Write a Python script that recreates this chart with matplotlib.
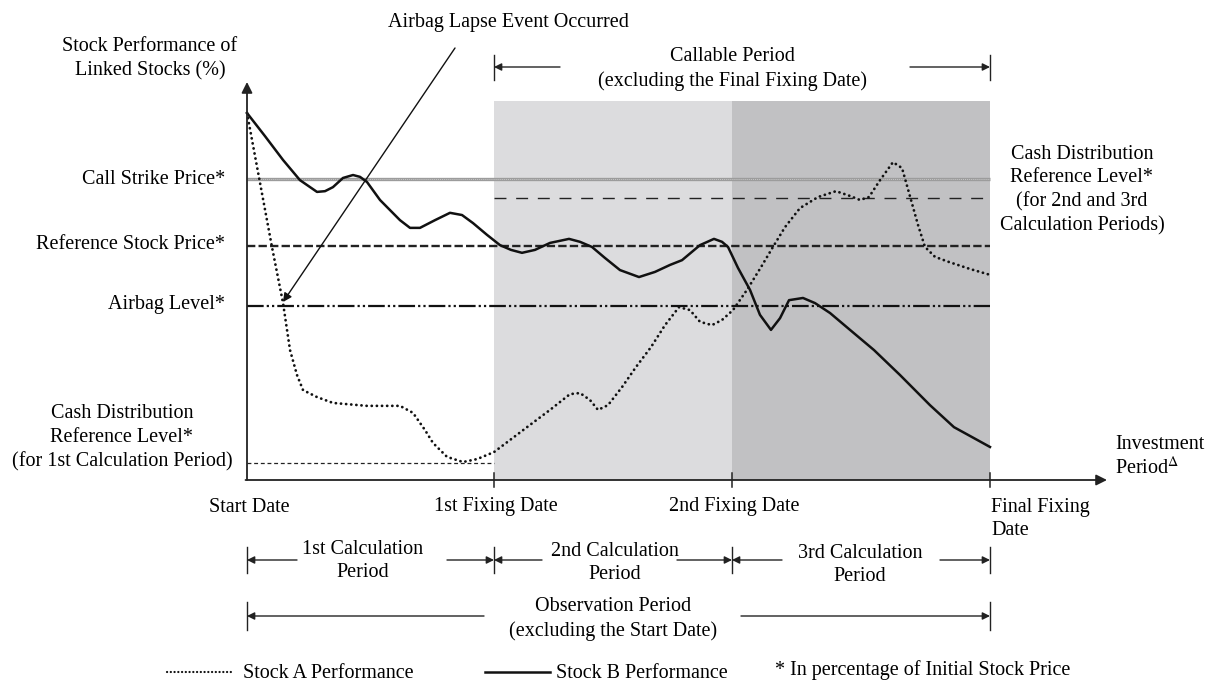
import matplotlib
matplotlib.use("Agg")
import matplotlib.pyplot as plt

plt.rcParams['font.family'] = ['Liberation Serif', 'DejaVu Serif']
plt.rcParams['mathtext.fontset'] = 'stix'
plt.rcParams['lines.scale_dashes'] = False
FS = 14.5

# ---------------- data (investment period in %, performance in % of initial) -------------
date_labels = ['Start Date', '1st Fixing Date', '2nd Fixing Date', 'Final Fixing\nDate']
date_x = [0.0, 33.2, 65.3, 100.0]

call_strike = 82.0
cash_dist_level_23 = 76.8
reference_price = 63.8
airbag_level = 47.4
cash_dist_level_1 = 4.6

stock_a_x = [0.0, 3.36, 4.85, 5.79, 6.73, 7.54, 9.42, 11.57, 16.15, 20.59, 22.34, 23.96,
             25.03, 26.92, 29.07, 30.96, 33.24, 35.40, 37.69, 40.78, 43.47, 44.82, 46.16,
             47.24, 48.59, 50.47, 52.36, 54.37, 56.26, 58.14, 59.62, 60.97, 62.58, 63.93,
             65.41, 67.29, 69.18, 70.79, 72.41, 74.43, 76.85, 79.27, 81.16, 82.50, 83.71,
             85.20, 86.94, 88.16, 89.37, 90.31, 91.25, 92.60, 94.48, 97.31, 100.0]
stock_a_y = [100.0, 63.5, 48.2, 35.4, 28.6, 24.5, 22.6, 21.0, 20.2, 20.2, 18.3, 13.6,
             10.1, 6.3, 4.9, 5.7, 7.6, 10.9, 14.4, 19.1, 23.4, 23.7, 21.8,
             19.1, 20.4, 25.3, 30.8, 36.2, 42.2, 47.1, 46.3, 43.1, 42.2, 43.6,
             46.3, 51.8, 58.0, 63.5, 68.9, 74.1, 77.1, 78.7, 77.4, 76.3, 77.1,
             81.7, 86.6, 85.0, 76.3, 69.5, 63.5, 60.8, 59.4, 57.5, 55.9]

stock_b_x = [0.0, 2.42, 4.85, 7.13, 9.42, 10.50, 11.57, 12.92, 14.27, 15.21, 16.15, 17.90,
             20.59, 21.94, 23.28, 25.30, 27.32, 28.94, 30.42, 32.30, 34.05, 35.53, 37.01,
             38.76, 40.78, 43.34, 44.82, 46.43, 48.18, 50.20, 52.76, 54.91, 56.93, 58.55,
             60.97, 62.85, 63.93, 64.74, 66.08, 67.70, 69.04, 70.52, 71.74, 72.95, 74.83,
             76.45, 78.47, 81.16, 84.39, 87.89, 91.92, 95.15, 97.31, 100.0]
stock_b_y = [100.0, 93.7, 87.2, 81.7, 78.5, 78.7, 79.8, 82.3, 83.1, 82.6, 81.2, 76.3,
             70.8, 68.7, 68.7, 70.8, 72.8, 72.2, 70.0, 66.8, 64.0, 62.7, 61.9,
             62.7, 64.6, 65.7, 64.9, 63.5, 60.5, 57.2, 55.3, 56.7, 58.6, 59.9,
             64.0, 65.7, 64.9, 63.5, 57.8, 51.8, 45.0, 40.9, 44.1, 49.0, 49.6,
             48.2, 45.5, 40.9, 35.4, 28.6, 20.4, 14.4, 12.0, 9.0]

# ---------------- figure -----------------------------------------------------------------
W, H = 1215, 684
fig = plt.figure(figsize=(W / 100, H / 100), dpi=100)

# pixel mapping of the data axes
X0, SX = 247.0, 7.43     # px of x=0, px per unit
Y0, SY = 480.0, 3.67     # px of y=0, px per unit
ax = fig.add_axes([0, 0, 1, 1])
ax.set_xlim(-X0 / SX, (W - X0) / SX)
ax.set_ylim((Y0 - H) / SY, Y0 / SY)
ax.axis('off')

lay = fig.add_axes([0, 0, 1, 1], facecolor='none')
lay.set_xlim(0, W)
lay.set_ylim(H, 0)
lay.axis('off')

shade_top = (Y0 - 101) / SY
ax.fill_between([date_x[1], date_x[2]], 0, shade_top, color='#dcdcde', lw=0, zorder=0)
ax.fill_between([date_x[2], date_x[3]], 0, shade_top, color='#c1c1c3', lw=0, zorder=0)

# level lines
ax.plot([date_x[0], date_x[3]], [call_strike] * 2, color='#9c9c9c', lw=2.4, zorder=2,
        solid_capstyle='butt')
ax.plot([date_x[0], date_x[3]], [call_strike] * 2, color='white', lw=0.6, zorder=2,
        dashes=(0.7, 0.7), alpha=0.5)
ax.plot([date_x[1], date_x[3]], [cash_dist_level_23] * 2, color='#222222', lw=1.0,
        dashes=(8.6, 7.0), zorder=2)
ax.plot([date_x[0], date_x[3]], [reference_price] * 2, color='#222222', lw=1.7,
        dashes=(6.0, 2.3), zorder=2, dash_capstyle='butt')
ax.plot([date_x[0], date_x[3]], [airbag_level] * 2, color='#111111', lw=1.6,
        dashes=(12.0, 2.2, 1.6, 2.2, 1.6, 2.2), zorder=2)
ax.plot([date_x[0], date_x[1]], [cash_dist_level_1] * 2, color='#222222', lw=0.9,
        dashes=(2.8, 2.0), zorder=2)

# stocks
ax.plot(stock_a_x, stock_a_y, color='#111111', lw=2.0, dashes=(0.1, 3.6),
        dash_capstyle='round', zorder=3)
ax.plot(stock_b_x, stock_b_y, color='#111111', lw=1.8, zorder=3, solid_joinstyle='round')

# axes with arrows
aprops = dict(arrowstyle='-|>', lw=1.3, color='#222222', mutation_scale=16,
              shrinkA=0, shrinkB=0)
ax.annotate('', xy=(0, (Y0 - 82) / SY), xytext=(0, 0), arrowprops=aprops, zorder=4)
ax.annotate('', xy=((1107 - X0) / SX, 0), xytext=(-0.2, 0), arrowprops=aprops, zorder=4)
for xv in date_x[1:]:
    ax.plot([xv, xv], [-7 / SY, 7 / SY], color='#222222', lw=1.1, zorder=4)

# tick labels
for lab, xv in zip(date_labels, date_x):
    px = X0 + xv * SX
    if '\n' in lab:
        lay.text(px + 1, 519, lab, ha='left', va='center', fontsize=FS, linespacing=1.32)
    else:
        lay.text(px + 2, 507, lab, ha='center', va='center', fontsize=FS)

# level labels
ax.text(-22 / SX, call_strike, 'Call Strike Price*', ha='right', va='center', fontsize=FS)
ax.text(-22 / SX, reference_price + 0.5, 'Reference Stock Price*', ha='right', va='center',
        fontsize=FS)
ax.text(-22 / SX, airbag_level + 0.3, 'Airbag Level*', ha='right', va='center', fontsize=FS)
lay.text(122, 438, 'Cash Distribution\nReference Level*\n(for 1st Calculation Period)',
         ha='center', va='center', fontsize=FS, linespacing=1.34)
lay.text(1082, 190, 'Cash Distribution\nReference Level*\n(for 2nd and 3rd\nCalculation Periods)',
         ha='center', va='center', fontsize=FS, linespacing=1.32)
lay.text(150, 59, 'Stock Performance of\nLinked Stocks (%)', ha='center', va='center',
         fontsize=FS, linespacing=1.34)
lay.text(1115, 457, 'Investment\nPeriod$^{\\Delta}$', ha='left', va='center',
         fontsize=FS, linespacing=1.22)

# airbag lapse annotation
lay.text(508, 23, 'Airbag Lapse Event Occurred', ha='center', va='center', fontsize=FS)
lay.annotate('', xy=(283, 302), xytext=(455, 48),
             arrowprops=dict(arrowstyle='-|>', lw=1.0, color='#111111', mutation_scale=13,
                             shrinkA=0, shrinkB=0))


def bar(x, y0, y1):
    lay.plot([x, x], [y0, y1], color='#222222', lw=1.0)


def arr(x_from, x_to, y):
    lay.annotate('', xy=(x_to, y), xytext=(x_from, y),
                 arrowprops=dict(arrowstyle='-|>', lw=1.0, color='#222222',
                                 mutation_scale=11, shrinkA=0, shrinkB=0))


# callable period
lay.text(732, 69, 'Callable Period\n(excluding the Final Fixing Date)', ha='center',
         va='center', fontsize=FS, linespacing=1.34)
bar(494, 55, 80)
bar(990, 55, 80)
arr(560, 494, 67)
arr(910, 990, 67)

# calculation periods
for xb in [247, 494, 732, 990]:
    bar(xb, 547, 573)
arr(297, 247, 560); arr(447, 494, 560)
arr(542, 494, 560); arr(677, 732, 560)
arr(782, 732, 560); arr(940, 990, 560)
lay.text(363, 561, '1st Calculation\nPeriod', ha='center', va='center', fontsize=FS,
         linespacing=1.28)
lay.text(615, 563, '2nd Calculation\nPeriod', ha='center', va='center', fontsize=FS,
         linespacing=1.3)
lay.text(860, 565, '3rd Calculation\nPeriod', ha='center', va='center', fontsize=FS,
         linespacing=1.3)

# observation period
bar(247, 602, 630)
bar(990, 602, 630)
arr(484, 247, 616)
arr(741, 990, 616)
lay.text(613, 619, 'Observation Period\n(excluding the Start Date)', ha='center',
         va='center', fontsize=FS, linespacing=1.3)

# legend
lay.plot([167, 232], [672, 672], color='#111111', lw=1.6, dashes=(0.1, 2.6),
         dash_capstyle='round')
lay.text(243, 673, 'Stock A Performance', ha='left', va='center', fontsize=FS)
lay.plot([485, 550], [672, 672], color='#111111', lw=1.8)
lay.text(556, 673, 'Stock B Performance', ha='left', va='center', fontsize=FS)
lay.text(775, 670, '* In percentage of Initial Stock Price', ha='left', va='center',
         fontsize=FS)

fig.savefig('out.png', dpi=100)
